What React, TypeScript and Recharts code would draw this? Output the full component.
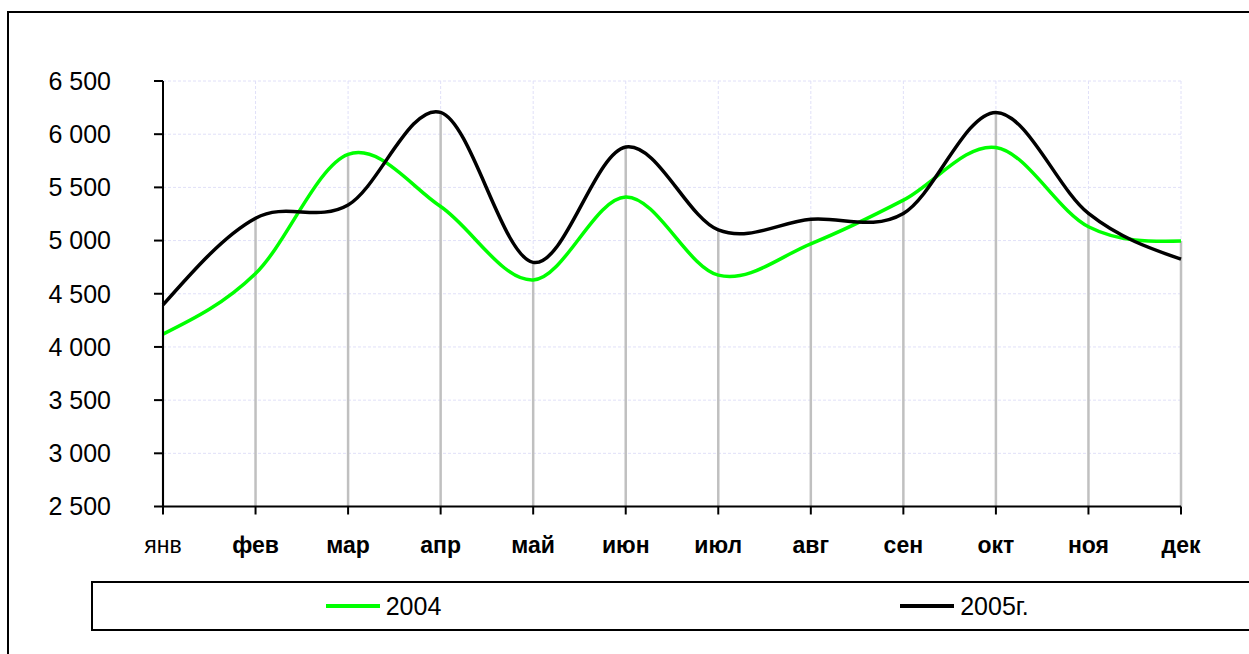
import React from "react";
import {
  LineChart, Line, XAxis, YAxis, CartesianGrid, ReferenceLine,
} from "recharts";

const months = ["янв", "фев", "мар", "апр", "май", "июн", "июл", "авг", "сен", "окт", "ноя", "дек"];
const values2004 = [4120, 4690, 5810, 5320, 4630, 5410, 4675, 4970, 5380, 5875, 5130, 4995];
const values2005 = [4395, 5210, 5335, 6205, 4795, 5880, 5100, 5200, 5255, 6205, 5255, 4825];
const yTicks = [2500, 3000, 3500, 4000, 4500, 5000, 5500, 6000, 6500];

const series = [
  { key: "y2004", name: "2004", color: "#00ff00" },
  { key: "y2005", name: "2005г.", color: "#000000" },
];

const data = months.map((m, i) => ({ month: m, y2004: values2004[i], y2005: values2005[i] }));

const FONT = "'Liberation Sans', Arial, sans-serif";

/* Excel-like smoothing: Catmull-Rom bezier, natural ends */
const excelSmooth = (context: any) => {
  let xs: number[] = [];
  let ys: number[] = [];
  return {
    areaStart() {},
    areaEnd() {},
    lineStart() { xs = []; ys = []; },
    point(x: number, y: number) { xs.push(+x); ys.push(+y); },
    lineEnd() {
      const n = xs.length;
      if (!n) return;
      context.moveTo(xs[0], ys[0]);
      if (n === 2) context.lineTo(xs[1], ys[1]);
      if (n < 3) return;
      for (let i = 0; i < n - 1; i++) {
        const i0 = Math.max(i - 1, 0);
        const i3 = Math.min(i + 2, n - 1);
        let c1x = xs[i] + (xs[i + 1] - xs[i0]) / 6;
        let c1y = ys[i] + (ys[i + 1] - ys[i0]) / 6;
        let c2x = xs[i + 1] - (xs[i3] - xs[i]) / 6;
        let c2y = ys[i + 1] - (ys[i3] - ys[i]) / 6;
        if (i === 0) { c1x = (xs[0] + c2x) / 2; c1y = (ys[0] + c2y) / 2; }
        if (i === n - 2) { c2x = (c1x + xs[n - 1]) / 2; c2y = (c1y + ys[n - 1]) / 2; }
        context.bezierCurveTo(c1x, c1y, c2x, c2y, xs[i + 1], ys[i + 1]);
      }
    },
  };
};

const fmt = (v: number) => String(v).replace(/\B(?=(\d{3})+(?!\d))/g, " ");

function MonthTick({ x, y, payload, index }: any) {
  return (
    <text x={x} y={y} dy="0.71em" textAnchor="middle" fill="#000"
      fontSize={23} fontFamily={FONT} fontWeight={index === 0 ? "normal" : "bold"}>
      {payload.value}
    </text>
  );
}

export default function App() {
  return (
    <div style={{ position: "fixed", left: 0, top: 0, width: 1249, height: 654, overflow: "hidden", background: "#fff" }}>
      {/* outer chart frame, runs off the right and bottom edges */}
      <div style={{
        position: "absolute", left: 7, top: 11, width: 1400, height: 800,
        borderLeft: "2px solid #000", borderTop: "2px solid #000",
      }} />
      <div style={{ position: "absolute", left: 0, top: 0 }}>
        <LineChart width={1249} height={654} data={data}
          margin={{ top: 81, right: 68, bottom: 97.5, left: 63 }}>
          <CartesianGrid stroke="#e0e0f8" strokeDasharray="3 2" />
          {months.map((m, i) => (
            <ReferenceLine key={m}
              segment={[{ x: m, y: yTicks[0] }, { x: m, y: Math.max(values2004[i], values2005[i]) }]}
              stroke="#c0c0c0" strokeWidth={2.5} />
          ))}
          <XAxis dataKey="month" interval={0} height={50} tickSize={8} tickMargin={22}
            axisLine={{ stroke: "#000", strokeWidth: 2 }} tickLine={{ stroke: "#000", strokeWidth: 2 }}
            tick={<MonthTick />} />
          <YAxis domain={[2500, 6500]} ticks={yTicks} width={100} tickSize={9} tickMargin={43}
            axisLine={{ stroke: "#000", strokeWidth: 2 }} tickLine={{ stroke: "#000", strokeWidth: 2 }}
            tickFormatter={fmt} tick={{ fill: "#000", fontSize: 25, fontFamily: FONT }} />
          {series.map((s) => (
            <Line key={s.key} dataKey={s.key} name={s.name} type={excelSmooth as any}
              stroke={s.color} strokeWidth={3.5} dot={false} activeDot={false} isAnimationActive={false} />
          ))}
        </LineChart>
      </div>
      <div style={{
        position: "absolute", left: 91, top: 581, width: 1220, height: 46,
        borderLeft: "2px solid #000", borderTop: "2px solid #000", borderBottom: "2px solid #000",
        fontFamily: FONT, fontSize: 25,
      }}>
        <div style={{ display: "flex", width: 1162, height: "100%" }}>
          {series.map((s) => (
            <div key={s.key} style={{ flex: 1, display: "flex", alignItems: "center", justifyContent: "center" }}>
              <span style={{ display: "inline-block", width: 54, height: 3.5, background: s.color, marginRight: 6 }} />
              <span>{s.name}</span>
            </div>
          ))}
        </div>
      </div>
    </div>
  );
}
